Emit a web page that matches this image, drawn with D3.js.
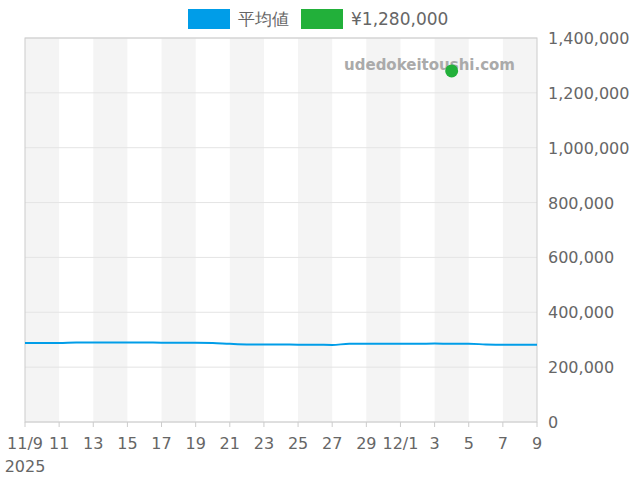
<!DOCTYPE html><html><head><meta charset="utf-8"><script src="https://cdn.jsdelivr.net/npm/d3@7"></script>
<style>body{margin:0;background:#fff}text{font-family:"DejaVu Sans",sans-serif}</style></head><body><svg id="c" width="640" height="480"></svg><script>
const startDate = "2025-11-09";
const avgValues = [288000,288000,288000,290000,290000,290000,290000,290000,289000,289000,289000,288000,285000,283000,283000,283000,282000,282000,281000,285000,285000,285000,285000,285000,286000,285000,285000,283000,282000,282000,282000];
const dotDate = "2025-12-04", dotValue = 1280000;
const xTickLabels = ["11/9","11","13","15","17","19","21","23","25","27","29","12/1","3","5","7","9"];
const yTicks = [0,200000,400000,600000,800000,1000000,1200000,1400000];
const legendLabels = ["平均値","¥1,280,000"];

const svg=d3.select("#c");
const L=25,R=537,T=38,B=422;
const p=d3.timeParse("%Y-%m-%d");
const d0=p(startDate), d1=d3.timeDay.offset(d0,30);
const x=d3.scaleTime().domain([d0,d1]).range([L,R]);
const y=d3.scaleLinear().domain([0,1400000]).range([B,T]);
const days=d3.timeDay.range(d0,d1);
days.forEach((d,i)=>{ if(i%4===0) svg.append("rect").attr("x",x(d)).attr("y",T).attr("width",x(d3.timeDay.offset(d,2))-x(d)).attr("height",B-T).attr("fill","#f4f4f4");});
yTicks.forEach(v=>{svg.append("line").attr("x1",L).attr("x2",R).attr("y1",y(v)).attr("y2",y(v)).attr("stroke","#e4e4e4");
 svg.append("text").attr("x",548).attr("y",y(v)+6).attr("font-size",16).attr("fill","#666").text(d3.format(",")(v));});
svg.append("rect").attr("x",L).attr("y",T).attr("width",R-L).attr("height",B-T).attr("fill","none").attr("stroke","#ccc");
xTickLabels.forEach((t,i)=>{const d=d3.timeDay.offset(d0,i*2);
 svg.append("line").attr("x1",x(d)).attr("x2",x(d)).attr("y1",B).attr("y2",B+5).attr("stroke","#ccc");
 svg.append("text").attr("x",x(d)).attr("y",449).attr("text-anchor","middle").attr("font-size",16).attr("fill","#666").text(t);});
svg.append("text").attr("x",25).attr("y",472).attr("text-anchor","middle").attr("font-size",16).attr("fill","#666").text("2025");
const data=avgValues.map((v,i)=>({d:d3.timeDay.offset(d0,i),v}));
svg.append("path").datum(data).attr("fill","none").attr("stroke","#009de8").attr("stroke-width",2)
 .attr("d",d3.line().x(d=>x(d.d)).y(d=>y(d.v)).curve(d3.curveMonotoneX));
svg.append("text").attr("x",515).attr("y",70).attr("text-anchor","end").attr("font-size",15).attr("font-weight","bold").attr("fill","#aaa").text("udedokeitoushi.com");
svg.append("circle").attr("cx",x(p(dotDate))).attr("cy",y(dotValue)).attr("r",6.5).attr("fill","#22b03a");
const lc=["#009de8","#22b03a"], lx=[188,301];
legendLabels.forEach((t,i)=>{svg.append("rect").attr("x",lx[i]).attr("y",9).attr("width",42).attr("height",20).attr("fill",lc[i]);
 svg.append("text").attr("x",lx[i]+50).attr("y",25).attr("font-size",17).attr("fill","#666").text(t);});
</script></body></html>
